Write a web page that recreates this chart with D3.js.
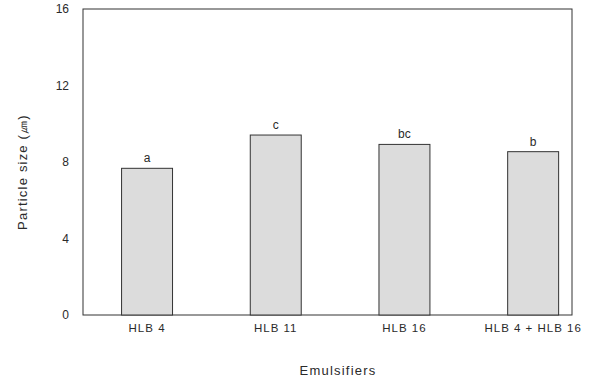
<!DOCTYPE html>
<html><head><meta charset="utf-8">
<script src="https://cdn.jsdelivr.net/npm/d3@7"></script>
<style>body{margin:0;background:#fff}text{font-family:Arial,"Liberation Sans",sans-serif;fill:#2a2a2a}</style>
</head><body>
<svg id="c" width="615" height="380"></svg>
<script>
const categories = ["HLB 4", "HLB 11", "HLB 16", "HLB 4 + HLB 16"];
const values = [7.67, 9.41, 8.92, 8.54];
const letters = ["a", "c", "bc", "b"];
const yTicks = [0, 4, 8, 12, 16];

const svg = d3.select("#c");
const frame = {left: 83, right: 572, top: 9, bottom: 315};
const y = d3.scaleLinear().domain([0, 16]).range([frame.bottom, frame.top]);
const x = d3.scaleBand().domain(categories).range([82.7, 597.5]).paddingInner(0.604).paddingOuter(0.302);

svg.append("rect").attr("x", frame.left).attr("y", frame.top)
  .attr("width", frame.right - frame.left).attr("height", frame.bottom - frame.top)
  .attr("fill", "none").attr("stroke", "#333").attr("stroke-width", 1);

const yAxis = svg.append("g").attr("transform", `translate(${frame.left},0)`)
  .call(d3.axisLeft(y).tickValues(yTicks).tickSize(0).tickPadding(14).tickFormat(d3.format("d")));
yAxis.select(".domain").remove();
yAxis.selectAll("text").attr("font-size", 12).attr("fill", "#333").style("font-family", "Arial, sans-serif");

svg.selectAll("rect.bar").data(values).join("rect").attr("class", "bar")
  .attr("x", (d, i) => x(categories[i])).attr("width", x.bandwidth())
  .attr("y", d => y(d)).attr("height", d => y(0) - y(d))
  .attr("fill", "#dcdcdc").attr("stroke", "#333").attr("stroke-width", 1);

svg.selectAll("text.lt").data(values).join("text").attr("class", "lt")
  .attr("x", (d, i) => x(categories[i]) + x.bandwidth() / 2)
  .attr("y", d => y(d) - 6).attr("text-anchor", "middle").attr("font-size", 12)
  .text((d, i) => letters[i]);

const xAxis = svg.append("g").attr("transform", `translate(0,${frame.bottom})`)
  .call(d3.axisBottom(x).tickSize(0).tickPadding(9));
xAxis.select(".domain").remove();
xAxis.selectAll("text").attr("font-size", 11.5).attr("fill", "#333").style("font-family", "Arial, sans-serif").attr("letter-spacing", "1px");

svg.append("text").attr("x", 338).attr("y", 375).attr("text-anchor", "middle")
  .attr("font-size", 13).attr("letter-spacing", "1.2px").text("Emulsifiers");

svg.append("text").attr("transform", "translate(27,172) rotate(-90)").attr("text-anchor", "middle")
  .attr("font-size", 13).attr("letter-spacing", "1.2px").text("Particle size (㎛)");
</script>
</body></html>
